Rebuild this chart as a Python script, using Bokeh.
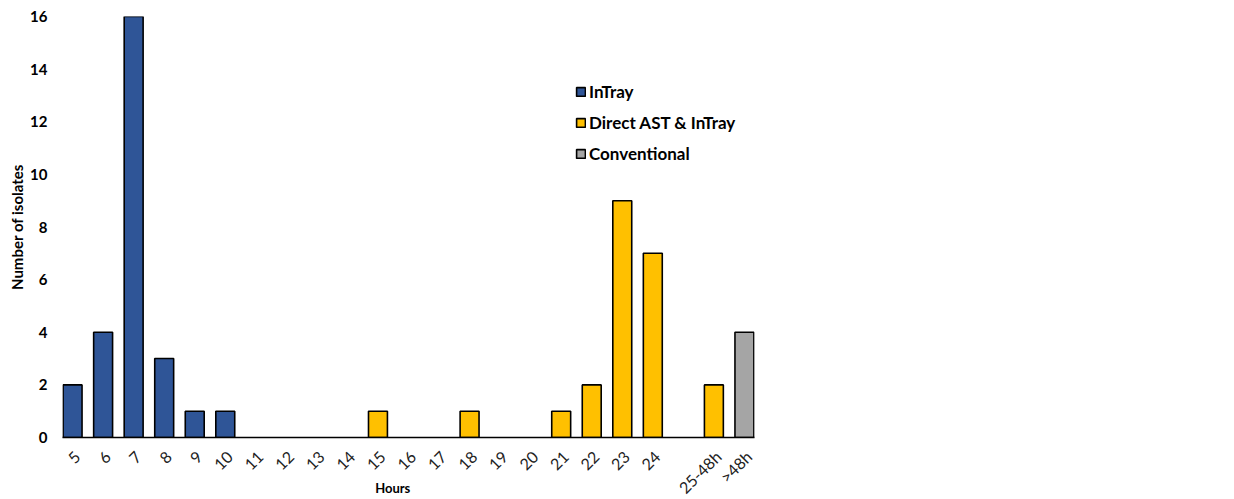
import math
from bokeh.plotting import figure
from bokeh.models import (ColumnDataSource, FixedTicker, Legend, LegendItem,
                          LinearAxis, Range1d, CustomJSTickFormatter)
from bokeh.embed import file_html
from bokeh.resources import INLINE

# ---- data ----
hours = ["5", "6", "7", "8", "9", "10", "11", "12", "13", "14", "15", "16", "17",
         "18", "19", "20", "21", "22", "23", "24", " ", "25-48h", ">48h"]
isolates = [2, 4, 16, 3, 1, 1, 0, 0, 0, 0, 1, 0, 0, 1, 0, 0, 1, 2, 9, 7, 0, 2, 4]
groups = ["InTray"] * 6 + ["Direct AST & InTray"] * 16 + ["Conventional"]
group_names = ["InTray", "Direct AST & InTray", "Conventional"]
group_colors = ["#2F5597", "#FFC000", "#A5A5A5"]
y_ticks = [0, 2, 4, 6, 8, 10, 12, 14, 16]
x_title = "Hours"

FONT = "Lato"
BAR_W = 0.62
PAD = (1 - BAR_W) / 2 - 0.02          # part of the outer category slots left outside the frame
LABEL_SHIFT = 0.14                     # tick labels sit a little right of the bar centres
n = len(hours)
slots = list(range(n))                 # category slot index of each hour class

p = figure(width=1218, height=498, output_backend="svg", toolbar_location=None,
           x_range=Range1d(start=PAD - 0.5, end=n - PAD - 0.5),
           y_range=(0, 16), x_axis_location=None,
           min_border_left=62, min_border_right=464, min_border_top=16, min_border_bottom=61)
p.outline_line_color = None
p.grid.visible = False

# twin range, used only to place the rotated tick labels
p.extra_x_ranges = {"lab": Range1d(start=PAD - 0.5 - LABEL_SHIFT, end=n - PAD - 0.5 - LABEL_SHIFT)}

renderers = {}
for g, c in zip(group_names, group_colors):
    xs = [s for s, v, gg in zip(slots, isolates, groups) if gg == g and v > 0]
    ys = [v for s, v, gg in zip(slots, isolates, groups) if gg == g and v > 0]
    src = ColumnDataSource(dict(x=xs, top=ys))
    renderers[g] = p.vbar(x="x", top="top", width=BAR_W, source=src,
                          fill_color=c, line_color="black", line_width=1.6)

legend = Legend(items=[LegendItem(label=g, renderers=[renderers[g]]) for g in group_names],
                location=(513, 273), orientation="vertical",
                glyph_width=11, glyph_height=11, label_height=20, spacing=10,
                padding=0, margin=0, border_line_color=None, background_fill_alpha=0,
                label_text_font=FONT, label_text_font_style="bold",
                label_text_font_size="17px", label_text_color="black",
                label_standoff=3)
p.add_layout(legend, "center")

# y axis
p.yaxis.ticker = FixedTicker(ticks=y_ticks)
p.yaxis.axis_line_color = None
p.yaxis.major_tick_line_color = None
p.yaxis.minor_tick_line_color = None
p.yaxis.major_tick_out = 0
p.yaxis.major_tick_in = 0
p.yaxis.major_label_text_font = FONT
p.yaxis.major_label_text_font_style = "bold"
p.yaxis.major_label_text_font_size = "15px"
p.yaxis.major_label_text_color = "black"
p.yaxis.major_label_standoff = 15
p.yaxis.axis_label = "Number of isolates"
p.yaxis.axis_label_text_font = FONT
p.yaxis.axis_label_text_font_style = "bold"
p.yaxis.axis_label_text_font_size = "15px"
p.yaxis.axis_label_text_color = "black"
p.yaxis.axis_label_standoff = 1

# x axis
xaxis = LinearAxis(x_range_name="lab",
                   ticker=FixedTicker(ticks=slots, minor_ticks=[]),
                   formatter=CustomJSTickFormatter(args=dict(labels=hours),
                                                   code="return labels[Math.round(tick)];"),
                   axis_line_color="black", axis_line_width=1.3,
                   major_tick_line_color=None, minor_tick_line_color=None,
                   major_tick_out=0, major_tick_in=0, minor_tick_out=0, minor_tick_in=0,
                   major_label_orientation=math.pi / 4,
                   major_label_text_font=FONT, major_label_text_font_size="16px",
                   major_label_text_color="#222222", major_label_standoff=16,
                   axis_label=x_title + "\u00a0" * 10,
                   axis_label_text_font=FONT, axis_label_text_font_style="bold",
                   axis_label_text_font_size="13px", axis_label_text_color="black",
                   axis_label_standoff=-27)
p.add_layout(xaxis, "below")

open("out.html", "w").write(file_html(p, INLINE))
